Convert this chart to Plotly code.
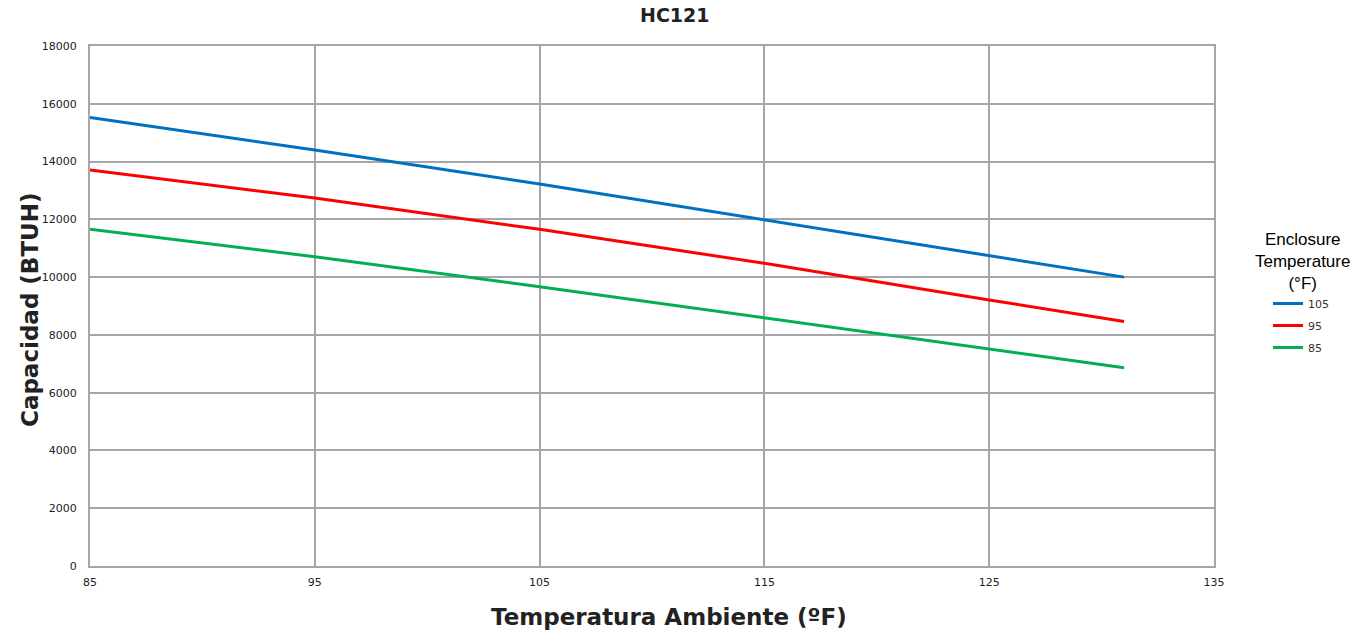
import plotly.graph_objects as go

ambient_f = [85, 95, 105, 115, 125, 131]
cap_105 = [15530, 14400, 13220, 11980, 10765, 10000]
cap_95 = [13707, 12738, 11654, 10477, 9207, 8465]
cap_85 = [11654, 10706, 9668, 8596, 7511, 6865]
series_names = ["105", "95", "85"]
colors = ["#0070C0", "#FF0000", "#00B050"]

fig = go.Figure()
for name, vals, c in zip(series_names, [cap_105, cap_95, cap_85], colors):
    fig.add_trace(go.Scatter(x=ambient_f, y=vals, mode="lines", name=name, legendgroup=name,
                             line=dict(color=c, width=3)))

grid = "#A6A6A6"
fig.update_layout(
    width=1365, height=634,
    margin=dict(l=90, r=151, t=46, b=68),
    paper_bgcolor="white", plot_bgcolor="white",
    showlegend=True,
    legend=dict(
        x=(1268-90)/1124, y=(566-289)/520, xanchor="left", yanchor="top",
        font=dict(family="DejaVu Sans, Verdana", size=11, color="#333333"),
        tracegroupgap=3, itemwidth=30, bgcolor="rgba(0,0,0,0)",
    ),
    xaxis=dict(range=[85, 135], dtick=10, tick0=85, showgrid=True, gridcolor=grid, gridwidth=2,
               showline=True, linecolor=grid, linewidth=2, mirror=True, zeroline=False,
               ticks="outside", ticklen=5, tickcolor="white", automargin=False,
               tickfont=dict(family="DejaVu Sans, Verdana", size=11, color="#222222")),
    yaxis=dict(range=[0, 18000], dtick=2000, tickformat="d", showgrid=True, gridcolor=grid, gridwidth=2,
               showline=True, linecolor=grid, linewidth=2, mirror=True, zeroline=False,
               ticks="outside", ticklen=9, tickcolor="white", automargin=False,
               tickfont=dict(family="DejaVu Sans, Verdana", size=11, color="#222222")),
    annotations=[
        dict(text="<b>HC121</b>", x=(675-90)/1124, y=1, xref="paper", yref="paper",
             yshift=44, showarrow=False, font=dict(family="DejaVu Sans, Verdana", size=19, color="#222222")),
        dict(text="<b>Temperatura Ambiente (ºF)</b>", x=(669-90)/1124, y=0, xref="paper", yref="paper",
             yshift=-66, showarrow=False, font=dict(family="DejaVu Sans", size=23, color="#222222")),
        dict(text="<b>Capacidad (BTUH)</b>", x=0, y=(566-310)/520, xref="paper", yref="paper",
             xshift=-75, textangle=-90, showarrow=False, font=dict(family="DejaVu Sans", size=23, color="#222222")),
        dict(text="Enclosure<br>Temperature<br>(°F)", x=(1302-90)/1124, y=(566-261)/520,
             xref="paper", yref="paper", xanchor="center", yanchor="middle", showarrow=False, align="center",
             font=dict(family="Liberation Sans, Arial", size=17, color="#000000")),
    ],
)
fig.write_html("out.html", config={"displayModeBar": False},
               post_script="document.body.style.margin='0';")
